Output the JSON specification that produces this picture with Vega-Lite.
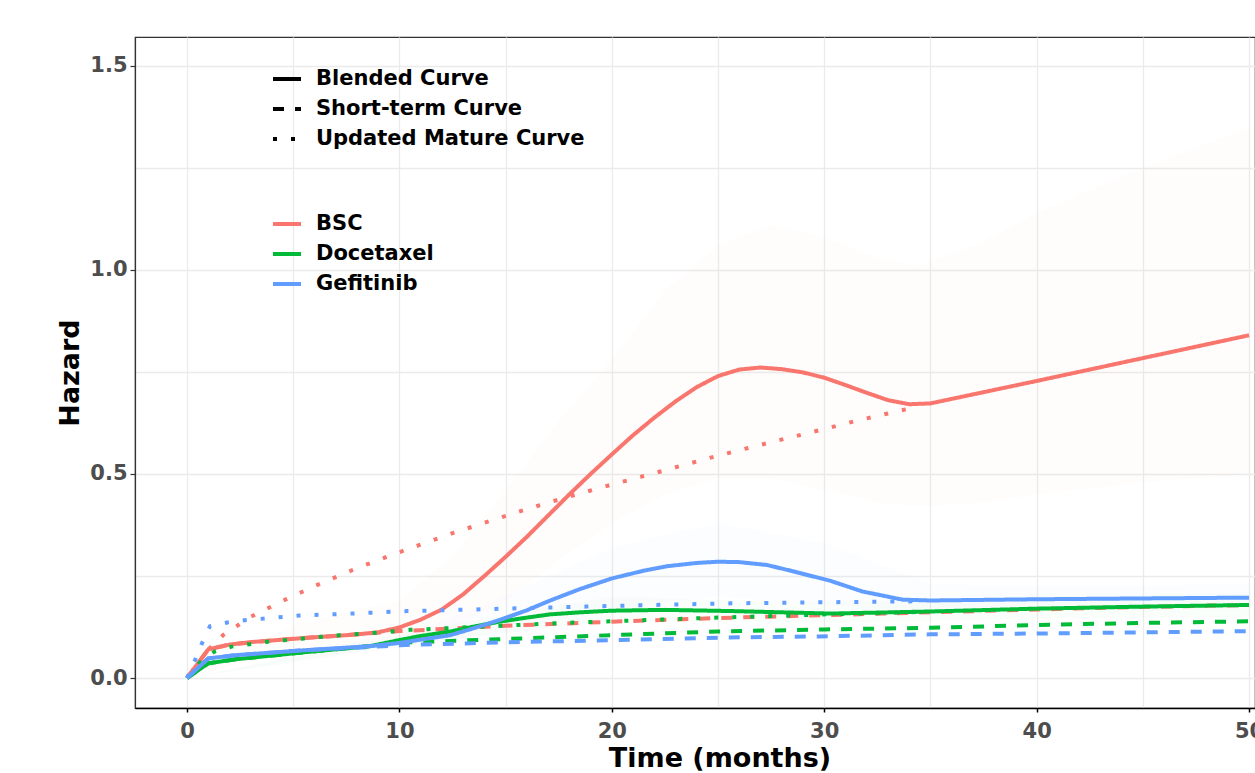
{
  "$schema": "https://vega.github.io/schema/vega-lite/v6.json",
  "width": 1120,
  "height": 671,
  "autosize": {"type": "none"},
  "padding": {"left": 135, "top": 37, "right": 0, "bottom": 65},
  "background": "white",
  "config": {"view": {"stroke": "#333333", "strokeWidth": 1.2}, "font": "DejaVu Sans"},
  "datasets": {
    "bands": [
      {"band": "BSC", "t": 0, "lo": 0, "hi": 0},
      {"band": "BSC", "t": 5, "lo": 0.07, "hi": 0.13},
      {"band": "BSC", "t": 10, "lo": 0.09, "hi": 0.19},
      {"band": "BSC", "t": 12.5, "lo": 0.12, "hi": 0.3},
      {"band": "BSC", "t": 15, "lo": 0.19, "hi": 0.46},
      {"band": "BSC", "t": 17.5, "lo": 0.29, "hi": 0.63},
      {"band": "BSC", "t": 20, "lo": 0.38, "hi": 0.78},
      {"band": "BSC", "t": 22.5, "lo": 0.45, "hi": 0.95},
      {"band": "BSC", "t": 25, "lo": 0.49, "hi": 1.06},
      {"band": "BSC", "t": 27.5, "lo": 0.49, "hi": 1.11},
      {"band": "BSC", "t": 30, "lo": 0.46, "hi": 1.08},
      {"band": "BSC", "t": 32.5, "lo": 0.43, "hi": 1.03},
      {"band": "BSC", "t": 34.5, "lo": 0.42, "hi": 1.01},
      {"band": "BSC", "t": 37.5, "lo": 0.43, "hi": 1.07},
      {"band": "BSC", "t": 40, "lo": 0.45, "hi": 1.14},
      {"band": "BSC", "t": 45, "lo": 0.48, "hi": 1.25},
      {"band": "BSC", "t": 50, "lo": 0.5, "hi": 1.35},
      {"band": "Docetaxel", "t": 0, "lo": 0, "hi": 0},
      {"band": "Docetaxel", "t": 10, "lo": 0.08, "hi": 0.11},
      {"band": "Docetaxel", "t": 20, "lo": 0.14, "hi": 0.2},
      {"band": "Docetaxel", "t": 30, "lo": 0.135, "hi": 0.185},
      {"band": "Docetaxel", "t": 40, "lo": 0.145, "hi": 0.2},
      {"band": "Docetaxel", "t": 50, "lo": 0.15, "hi": 0.21},
      {"band": "Gefitinib", "t": 0, "lo": 0, "hi": 0},
      {"band": "Gefitinib", "t": 10, "lo": 0.075, "hi": 0.1},
      {"band": "Gefitinib", "t": 15, "lo": 0.11, "hi": 0.2},
      {"band": "Gefitinib", "t": 20, "lo": 0.17, "hi": 0.32},
      {"band": "Gefitinib", "t": 25, "lo": 0.2, "hi": 0.38},
      {"band": "Gefitinib", "t": 30, "lo": 0.18, "hi": 0.33},
      {"band": "Gefitinib", "t": 35, "lo": 0.16, "hi": 0.23},
      {"band": "Gefitinib", "t": 40, "lo": 0.165, "hi": 0.225},
      {"band": "Gefitinib", "t": 50, "lo": 0.17, "hi": 0.23}
    ],
    "lines": [
      {"series": "BSC", "curve": "Blended Curve", "t": 0, "h": 0},
      {"series": "BSC", "curve": "Blended Curve", "t": 1, "h": 0.07},
      {"series": "BSC", "curve": "Blended Curve", "t": 2, "h": 0.082},
      {"series": "BSC", "curve": "Blended Curve", "t": 3, "h": 0.088},
      {"series": "BSC", "curve": "Blended Curve", "t": 4, "h": 0.092},
      {"series": "BSC", "curve": "Blended Curve", "t": 5, "h": 0.096},
      {"series": "BSC", "curve": "Blended Curve", "t": 6, "h": 0.1},
      {"series": "BSC", "curve": "Blended Curve", "t": 7, "h": 0.103},
      {"series": "BSC", "curve": "Blended Curve", "t": 8, "h": 0.107},
      {"series": "BSC", "curve": "Blended Curve", "t": 9, "h": 0.112},
      {"series": "BSC", "curve": "Blended Curve", "t": 10, "h": 0.124},
      {"series": "BSC", "curve": "Blended Curve", "t": 11, "h": 0.143},
      {"series": "BSC", "curve": "Blended Curve", "t": 12, "h": 0.168},
      {"series": "BSC", "curve": "Blended Curve", "t": 13, "h": 0.205},
      {"series": "BSC", "curve": "Blended Curve", "t": 14, "h": 0.25},
      {"series": "BSC", "curve": "Blended Curve", "t": 15, "h": 0.297},
      {"series": "BSC", "curve": "Blended Curve", "t": 16, "h": 0.346},
      {"series": "BSC", "curve": "Blended Curve", "t": 17, "h": 0.398},
      {"series": "BSC", "curve": "Blended Curve", "t": 18, "h": 0.45},
      {"series": "BSC", "curve": "Blended Curve", "t": 19, "h": 0.5},
      {"series": "BSC", "curve": "Blended Curve", "t": 20, "h": 0.548},
      {"series": "BSC", "curve": "Blended Curve", "t": 21, "h": 0.595},
      {"series": "BSC", "curve": "Blended Curve", "t": 22, "h": 0.638},
      {"series": "BSC", "curve": "Blended Curve", "t": 23, "h": 0.678},
      {"series": "BSC", "curve": "Blended Curve", "t": 24, "h": 0.713},
      {"series": "BSC", "curve": "Blended Curve", "t": 25, "h": 0.74},
      {"series": "BSC", "curve": "Blended Curve", "t": 26, "h": 0.756},
      {"series": "BSC", "curve": "Blended Curve", "t": 27, "h": 0.761},
      {"series": "BSC", "curve": "Blended Curve", "t": 28, "h": 0.757},
      {"series": "BSC", "curve": "Blended Curve", "t": 29, "h": 0.749},
      {"series": "BSC", "curve": "Blended Curve", "t": 30, "h": 0.736},
      {"series": "BSC", "curve": "Blended Curve", "t": 31, "h": 0.718},
      {"series": "BSC", "curve": "Blended Curve", "t": 32, "h": 0.699},
      {"series": "BSC", "curve": "Blended Curve", "t": 33, "h": 0.681},
      {"series": "BSC", "curve": "Blended Curve", "t": 34, "h": 0.671},
      {"series": "BSC", "curve": "Blended Curve", "t": 35, "h": 0.673},
      {"series": "BSC", "curve": "Blended Curve", "t": 40, "h": 0.728},
      {"series": "BSC", "curve": "Blended Curve", "t": 45, "h": 0.784},
      {"series": "BSC", "curve": "Blended Curve", "t": 50, "h": 0.84},
      {"series": "BSC", "curve": "Short-term Curve", "t": 0, "h": 0},
      {"series": "BSC", "curve": "Short-term Curve", "t": 1, "h": 0.07},
      {"series": "BSC", "curve": "Short-term Curve", "t": 2, "h": 0.082},
      {"series": "BSC", "curve": "Short-term Curve", "t": 4, "h": 0.092},
      {"series": "BSC", "curve": "Short-term Curve", "t": 6, "h": 0.1},
      {"series": "BSC", "curve": "Short-term Curve", "t": 8, "h": 0.107},
      {"series": "BSC", "curve": "Short-term Curve", "t": 10, "h": 0.115},
      {"series": "BSC", "curve": "Short-term Curve", "t": 12, "h": 0.12},
      {"series": "BSC", "curve": "Short-term Curve", "t": 15, "h": 0.128},
      {"series": "BSC", "curve": "Short-term Curve", "t": 20, "h": 0.138},
      {"series": "BSC", "curve": "Short-term Curve", "t": 25, "h": 0.147},
      {"series": "BSC", "curve": "Short-term Curve", "t": 30, "h": 0.154},
      {"series": "BSC", "curve": "Short-term Curve", "t": 35, "h": 0.161},
      {"series": "BSC", "curve": "Short-term Curve", "t": 40, "h": 0.168},
      {"series": "BSC", "curve": "Short-term Curve", "t": 45, "h": 0.174},
      {"series": "BSC", "curve": "Short-term Curve", "t": 50, "h": 0.179},
      {"series": "BSC", "curve": "Updated Mature Curve", "t": 0, "h": 0},
      {"series": "BSC", "curve": "Updated Mature Curve", "t": 1, "h": 0.07},
      {"series": "BSC", "curve": "Updated Mature Curve", "t": 1.7, "h": 0.105},
      {"series": "BSC", "curve": "Updated Mature Curve", "t": 3, "h": 0.15},
      {"series": "BSC", "curve": "Updated Mature Curve", "t": 4.7, "h": 0.194},
      {"series": "BSC", "curve": "Updated Mature Curve", "t": 6, "h": 0.225},
      {"series": "BSC", "curve": "Updated Mature Curve", "t": 7.85, "h": 0.266},
      {"series": "BSC", "curve": "Updated Mature Curve", "t": 9.5, "h": 0.299},
      {"series": "BSC", "curve": "Updated Mature Curve", "t": 11, "h": 0.327},
      {"series": "BSC", "curve": "Updated Mature Curve", "t": 12.5, "h": 0.355},
      {"series": "BSC", "curve": "Updated Mature Curve", "t": 14.4, "h": 0.387},
      {"series": "BSC", "curve": "Updated Mature Curve", "t": 16, "h": 0.414},
      {"series": "BSC", "curve": "Updated Mature Curve", "t": 18, "h": 0.445},
      {"series": "BSC", "curve": "Updated Mature Curve", "t": 20, "h": 0.474},
      {"series": "BSC", "curve": "Updated Mature Curve", "t": 22, "h": 0.502},
      {"series": "BSC", "curve": "Updated Mature Curve", "t": 25, "h": 0.545},
      {"series": "BSC", "curve": "Updated Mature Curve", "t": 27.5, "h": 0.578},
      {"series": "BSC", "curve": "Updated Mature Curve", "t": 29.3, "h": 0.601},
      {"series": "BSC", "curve": "Updated Mature Curve", "t": 31.8, "h": 0.634},
      {"series": "BSC", "curve": "Updated Mature Curve", "t": 34.4, "h": 0.665},
      {"series": "Docetaxel", "curve": "Blended Curve", "t": 0, "h": 0},
      {"series": "Docetaxel", "curve": "Blended Curve", "t": 1, "h": 0.036},
      {"series": "Docetaxel", "curve": "Blended Curve", "t": 2.3, "h": 0.046},
      {"series": "Docetaxel", "curve": "Blended Curve", "t": 5.5, "h": 0.063},
      {"series": "Docetaxel", "curve": "Blended Curve", "t": 8.6, "h": 0.078},
      {"series": "Docetaxel", "curve": "Blended Curve", "t": 10, "h": 0.093},
      {"series": "Docetaxel", "curve": "Blended Curve", "t": 11, "h": 0.103},
      {"series": "Docetaxel", "curve": "Blended Curve", "t": 12.4, "h": 0.114},
      {"series": "Docetaxel", "curve": "Blended Curve", "t": 13.5, "h": 0.126},
      {"series": "Docetaxel", "curve": "Blended Curve", "t": 14.7, "h": 0.138},
      {"series": "Docetaxel", "curve": "Blended Curve", "t": 16, "h": 0.148},
      {"series": "Docetaxel", "curve": "Blended Curve", "t": 17.1, "h": 0.156},
      {"series": "Docetaxel", "curve": "Blended Curve", "t": 18.5, "h": 0.161},
      {"series": "Docetaxel", "curve": "Blended Curve", "t": 20, "h": 0.165},
      {"series": "Docetaxel", "curve": "Blended Curve", "t": 22.5, "h": 0.167},
      {"series": "Docetaxel", "curve": "Blended Curve", "t": 25.7, "h": 0.164},
      {"series": "Docetaxel", "curve": "Blended Curve", "t": 28, "h": 0.161},
      {"series": "Docetaxel", "curve": "Blended Curve", "t": 30.3, "h": 0.158},
      {"series": "Docetaxel", "curve": "Blended Curve", "t": 35, "h": 0.163},
      {"series": "Docetaxel", "curve": "Blended Curve", "t": 40, "h": 0.17},
      {"series": "Docetaxel", "curve": "Blended Curve", "t": 45, "h": 0.175},
      {"series": "Docetaxel", "curve": "Blended Curve", "t": 50, "h": 0.179},
      {"series": "Docetaxel", "curve": "Short-term Curve", "t": 0, "h": 0},
      {"series": "Docetaxel", "curve": "Short-term Curve", "t": 1, "h": 0.036},
      {"series": "Docetaxel", "curve": "Short-term Curve", "t": 2.3, "h": 0.046},
      {"series": "Docetaxel", "curve": "Short-term Curve", "t": 5.5, "h": 0.063},
      {"series": "Docetaxel", "curve": "Short-term Curve", "t": 8.6, "h": 0.078},
      {"series": "Docetaxel", "curve": "Short-term Curve", "t": 10.3, "h": 0.087},
      {"series": "Docetaxel", "curve": "Short-term Curve", "t": 14.7, "h": 0.095},
      {"series": "Docetaxel", "curve": "Short-term Curve", "t": 20, "h": 0.105},
      {"series": "Docetaxel", "curve": "Short-term Curve", "t": 25, "h": 0.114},
      {"series": "Docetaxel", "curve": "Short-term Curve", "t": 30, "h": 0.119},
      {"series": "Docetaxel", "curve": "Short-term Curve", "t": 35, "h": 0.123},
      {"series": "Docetaxel", "curve": "Short-term Curve", "t": 40, "h": 0.13},
      {"series": "Docetaxel", "curve": "Short-term Curve", "t": 45, "h": 0.135},
      {"series": "Docetaxel", "curve": "Short-term Curve", "t": 50, "h": 0.139},
      {"series": "Docetaxel", "curve": "Updated Mature Curve", "t": 0, "h": 0},
      {"series": "Docetaxel", "curve": "Updated Mature Curve", "t": 0.64, "h": 0.04},
      {"series": "Docetaxel", "curve": "Updated Mature Curve", "t": 1.3, "h": 0.065},
      {"series": "Docetaxel", "curve": "Updated Mature Curve", "t": 2.1, "h": 0.077},
      {"series": "Docetaxel", "curve": "Updated Mature Curve", "t": 3.8, "h": 0.089},
      {"series": "Docetaxel", "curve": "Updated Mature Curve", "t": 5.5, "h": 0.097},
      {"series": "Docetaxel", "curve": "Updated Mature Curve", "t": 7.2, "h": 0.105},
      {"series": "Docetaxel", "curve": "Updated Mature Curve", "t": 8.9, "h": 0.111},
      {"series": "Docetaxel", "curve": "Updated Mature Curve", "t": 10.5, "h": 0.118},
      {"series": "Docetaxel", "curve": "Updated Mature Curve", "t": 14.8, "h": 0.128},
      {"series": "Docetaxel", "curve": "Updated Mature Curve", "t": 18.2, "h": 0.136},
      {"series": "Docetaxel", "curve": "Updated Mature Curve", "t": 21.6, "h": 0.142},
      {"series": "Docetaxel", "curve": "Updated Mature Curve", "t": 25, "h": 0.148},
      {"series": "Docetaxel", "curve": "Updated Mature Curve", "t": 28.4, "h": 0.153},
      {"series": "Docetaxel", "curve": "Updated Mature Curve", "t": 30.1, "h": 0.156},
      {"series": "Docetaxel", "curve": "Updated Mature Curve", "t": 32.5, "h": 0.159},
      {"series": "Docetaxel", "curve": "Updated Mature Curve", "t": 34.5, "h": 0.162},
      {"series": "Gefitinib", "curve": "Blended Curve", "t": 0, "h": 0},
      {"series": "Gefitinib", "curve": "Blended Curve", "t": 1, "h": 0.048},
      {"series": "Gefitinib", "curve": "Blended Curve", "t": 2.3, "h": 0.056},
      {"series": "Gefitinib", "curve": "Blended Curve", "t": 5.5, "h": 0.068},
      {"series": "Gefitinib", "curve": "Blended Curve", "t": 8.6, "h": 0.078},
      {"series": "Gefitinib", "curve": "Blended Curve", "t": 10, "h": 0.086},
      {"series": "Gefitinib", "curve": "Blended Curve", "t": 11, "h": 0.094},
      {"series": "Gefitinib", "curve": "Blended Curve", "t": 12.4, "h": 0.105},
      {"series": "Gefitinib", "curve": "Blended Curve", "t": 13.5, "h": 0.122},
      {"series": "Gefitinib", "curve": "Blended Curve", "t": 14.7, "h": 0.142},
      {"series": "Gefitinib", "curve": "Blended Curve", "t": 16, "h": 0.166},
      {"series": "Gefitinib", "curve": "Blended Curve", "t": 17.1, "h": 0.19},
      {"series": "Gefitinib", "curve": "Blended Curve", "t": 18.5, "h": 0.218},
      {"series": "Gefitinib", "curve": "Blended Curve", "t": 20, "h": 0.244},
      {"series": "Gefitinib", "curve": "Blended Curve", "t": 21.5, "h": 0.263},
      {"series": "Gefitinib", "curve": "Blended Curve", "t": 22.6, "h": 0.274},
      {"series": "Gefitinib", "curve": "Blended Curve", "t": 24, "h": 0.282},
      {"series": "Gefitinib", "curve": "Blended Curve", "t": 25, "h": 0.285},
      {"series": "Gefitinib", "curve": "Blended Curve", "t": 26, "h": 0.284},
      {"series": "Gefitinib", "curve": "Blended Curve", "t": 27.3, "h": 0.277},
      {"series": "Gefitinib", "curve": "Blended Curve", "t": 28.5, "h": 0.262},
      {"series": "Gefitinib", "curve": "Blended Curve", "t": 30.3, "h": 0.238},
      {"series": "Gefitinib", "curve": "Blended Curve", "t": 31.8, "h": 0.212},
      {"series": "Gefitinib", "curve": "Blended Curve", "t": 33.7, "h": 0.192},
      {"series": "Gefitinib", "curve": "Blended Curve", "t": 35, "h": 0.19},
      {"series": "Gefitinib", "curve": "Blended Curve", "t": 40, "h": 0.193},
      {"series": "Gefitinib", "curve": "Blended Curve", "t": 45, "h": 0.195},
      {"series": "Gefitinib", "curve": "Blended Curve", "t": 50, "h": 0.197},
      {"series": "Gefitinib", "curve": "Short-term Curve", "t": 0, "h": 0},
      {"series": "Gefitinib", "curve": "Short-term Curve", "t": 1, "h": 0.048},
      {"series": "Gefitinib", "curve": "Short-term Curve", "t": 2.3, "h": 0.056},
      {"series": "Gefitinib", "curve": "Short-term Curve", "t": 5.5, "h": 0.068},
      {"series": "Gefitinib", "curve": "Short-term Curve", "t": 8.6, "h": 0.076},
      {"series": "Gefitinib", "curve": "Short-term Curve", "t": 10.3, "h": 0.081},
      {"series": "Gefitinib", "curve": "Short-term Curve", "t": 14.7, "h": 0.087},
      {"series": "Gefitinib", "curve": "Short-term Curve", "t": 20.1, "h": 0.093},
      {"series": "Gefitinib", "curve": "Short-term Curve", "t": 25.1, "h": 0.099},
      {"series": "Gefitinib", "curve": "Short-term Curve", "t": 29.8, "h": 0.102},
      {"series": "Gefitinib", "curve": "Short-term Curve", "t": 35, "h": 0.107},
      {"series": "Gefitinib", "curve": "Short-term Curve", "t": 40, "h": 0.109},
      {"series": "Gefitinib", "curve": "Short-term Curve", "t": 45, "h": 0.112},
      {"series": "Gefitinib", "curve": "Short-term Curve", "t": 50, "h": 0.115},
      {"series": "Gefitinib", "curve": "Updated Mature Curve", "t": 0, "h": 0},
      {"series": "Gefitinib", "curve": "Updated Mature Curve", "t": 0.38, "h": 0.044},
      {"series": "Gefitinib", "curve": "Updated Mature Curve", "t": 0.72, "h": 0.087},
      {"series": "Gefitinib", "curve": "Updated Mature Curve", "t": 1.08, "h": 0.127},
      {"series": "Gefitinib", "curve": "Updated Mature Curve", "t": 1.9, "h": 0.136},
      {"series": "Gefitinib", "curve": "Updated Mature Curve", "t": 2.8, "h": 0.142},
      {"series": "Gefitinib", "curve": "Updated Mature Curve", "t": 5.3, "h": 0.153},
      {"series": "Gefitinib", "curve": "Updated Mature Curve", "t": 7.8, "h": 0.158},
      {"series": "Gefitinib", "curve": "Updated Mature Curve", "t": 10.4, "h": 0.164},
      {"series": "Gefitinib", "curve": "Updated Mature Curve", "t": 15, "h": 0.17},
      {"series": "Gefitinib", "curve": "Updated Mature Curve", "t": 18.8, "h": 0.175},
      {"series": "Gefitinib", "curve": "Updated Mature Curve", "t": 22, "h": 0.179},
      {"series": "Gefitinib", "curve": "Updated Mature Curve", "t": 25.6, "h": 0.183},
      {"series": "Gefitinib", "curve": "Updated Mature Curve", "t": 29, "h": 0.185},
      {"series": "Gefitinib", "curve": "Updated Mature Curve", "t": 32.3, "h": 0.187},
      {"series": "Gefitinib", "curve": "Updated Mature Curve", "t": 34.5, "h": 0.188}
    ]
  },
  "encoding": {
    "x": {
      "field": "t",
      "type": "quantitative",
      "scale": {"domain": [-2.448, 50.28], "nice": false, "zero": false},
      "axis": {
        "title": "Time (months)",
        "values": [0, 5, 10, 15, 20, 25, 30, 35, 40, 45, 50],
        "format": "d",
        "labelExpr": "datum.value % 10 === 0 ? datum.label : ''",
        "tickOpacity": {"condition": {"test": "datum.value % 10 !== 0", "value": 0}, "value": 1},
        "gridColor": "#EBEBEB",
        "gridWidth": 1.3,
        "domainColor": "black",
        "domainWidth": 1.5,
        "tickColor": "black",
        "tickSize": 4,
        "tickWidth": 1.5,
        "labelFont": "DejaVu Sans",
        "labelFontWeight": "bold",
        "labelFontSize": 21,
        "labelColor": "#4D4D4D",
        "labelPadding": 8,
        "labelFlush": false,
        "labelOverlap": false,
        "labelBound": false,
        "titleFont": "DejaVu Sans",
        "titleFontWeight": "bold",
        "titleFontSize": 27,
        "titleColor": "black",
        "titleX": 584.5,
        "titleY": 58,
        "titleAlign": "center",
        "titleBaseline": "alphabetic"
      }
    },
    "y": {
      "field": "h",
      "type": "quantitative",
      "scale": {"domain": [-0.0735, 1.571], "nice": false, "zero": false},
      "axis": {
        "title": "Hazard",
        "values": [0, 0.25, 0.5, 0.75, 1, 1.25, 1.5],
        "labelExpr": "(datum.value * 4) % 2 === 0 ? format(datum.value, '.1f') : ''",
        "tickOpacity": {"condition": {"test": "(datum.value * 4) % 2 !== 0", "value": 0}, "value": 1},
        "gridColor": "#EBEBEB",
        "gridWidth": 1.3,
        "domainColor": "#333333",
        "domainWidth": 1.2,
        "tickColor": "#333333",
        "tickSize": 5,
        "tickWidth": 1.2,
        "labelFont": "DejaVu Sans",
        "labelFontWeight": "bold",
        "labelFontSize": 21,
        "labelColor": "#4D4D4D",
        "labelPadding": 3,
        "labelFlush": false,
        "labelOverlap": false,
        "labelBound": false,
        "titleFont": "DejaVu Sans",
        "titleFontWeight": "bold",
        "titleFontSize": 27,
        "titleColor": "black",
        "titleX": -65,
        "titleY": 335.5,
        "titleAngle": -90,
        "titleAlign": "center",
        "titleBaseline": "middle"
      }
    }
  },
  "layer": [
    {
      "data": {"name": "bands"},
      "transform": [{"filter": "datum.band === 'BSC'"}],
      "mark": {"type": "area", "clip": true, "color": "#F8766D", "fillOpacity": 0.018, "strokeWidth": 0},
      "encoding": {
        "y": {"field": "lo", "type": "quantitative", "title": "Hazard"},
        "y2": {"field": "hi"}
      }
    },
    {
      "data": {"name": "bands"},
      "transform": [{"filter": "datum.band === 'Docetaxel'"}],
      "mark": {"type": "area", "clip": true, "color": "#00BA38", "fillOpacity": 0.018, "strokeWidth": 0},
      "encoding": {
        "y": {"field": "lo", "type": "quantitative", "title": "Hazard"},
        "y2": {"field": "hi"}
      }
    },
    {
      "data": {"name": "bands"},
      "transform": [{"filter": "datum.band === 'Gefitinib'"}],
      "mark": {"type": "area", "clip": true, "color": "#619CFF", "fillOpacity": 0.018, "strokeWidth": 0},
      "encoding": {
        "y": {"field": "lo", "type": "quantitative", "title": "Hazard"},
        "y2": {"field": "hi"}
      }
    },
    {
      "data": {"name": "lines"},
      "mark": {"type": "line", "clip": true, "strokeWidth": 4},
      "encoding": {
        "color": {
          "field": "series",
          "type": "nominal",
          "scale": {"domain": ["BSC", "Docetaxel", "Gefitinib"], "range": ["#F8766D", "#00BA38", "#619CFF"]},
          "legend": {
            "orient": "none",
            "legendX": 136,
            "legendY": 171,
            "title": null,
            "padding": 0,
            "symbolType": "stroke",
            "symbolSize": 784,
            "symbolStrokeWidth": 4,
            "labelFont": "DejaVu Sans",
            "labelFontWeight": "bold",
            "labelFontSize": 21,
            "labelColor": "black",
            "labelOffset": 13,
            "labelLimit": 500,
            "rowPadding": 4
          }
        },
        "strokeDash": {
          "field": "curve",
          "type": "nominal",
          "scale": {"domain": ["Blended Curve", "Short-term Curve", "Updated Mature Curve"], "range": [[1, 0], [11, 11], [4, 14]]},
          "legend": {
            "orient": "none",
            "legendX": 136,
            "legendY": 26,
            "title": null,
            "padding": 0,
            "symbolType": "stroke",
            "symbolSize": 784,
            "symbolStrokeWidth": 4,
            "symbolStrokeColor": "black",
            "labelFont": "DejaVu Sans",
            "labelFontWeight": "bold",
            "labelFontSize": 21,
            "labelColor": "black",
            "labelOffset": 13,
            "labelLimit": 500,
            "rowPadding": 4,
            "encode": {"symbols": {"update": {"stroke": {"value": "black"}}}}
          }
        }
      }
    }
  ]
}
